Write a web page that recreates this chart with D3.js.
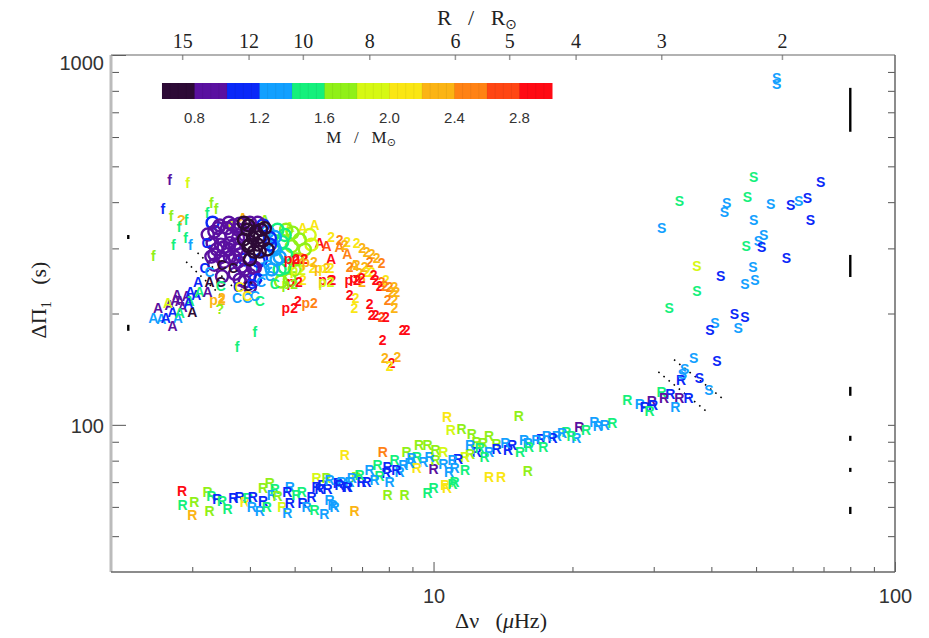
<!DOCTYPE html>
<html>
<head>
<meta charset="utf-8">
<script src="https://cdn.jsdelivr.net/npm/d3@7"></script>
<style>
body { margin: 0; background: #fff; }
svg { display: block; }
.pre { white-space: pre; }
</style>
</head>
<body>
<svg id="chart"></svg>
<script>
// each point: [dnu (muHz), dPi1 (s), mass (Msun)]
const rPts = [
  [2.85,66.3,2.9],[2.86,60.8,1.5],[3.03,61.9,1.7],[3.0,57.1,2.3],[3.24,66.0,1.7],[3.27,58.5,1.7],
  [3.3,64.3,1.5],[3.4,63.1,1.1],[3.48,62.3,1.5],[3.58,59.3,1.5],[3.68,63.4,1.1],[3.80,63.8,1.1],
  [3.90,61.9,2.1],[3.96,63.4,1.5],[4.06,63.8,1.1],[4.04,60.0,1.3],[4.20,58.5,1.3],[4.27,62.3,1.1],
  [4.35,60.0,1.5],[4.27,67.3,1.7],[4.42,69.8,1.7],[4.53,67.0,1.5],[4.46,64.7,1.3],[4.59,64.3,1.7],
  [4.70,60.0,1.9],[4.82,57.8,1.3],[4.88,68.0,1.3],[4.82,65.8,1.1],[4.88,61.6,1.1],[5.05,64.7,1.5],
  [5.18,65.8,1.5],[5.20,61.6,1.1],[5.31,60.0,1.3],[5.44,63.8,1.1],[5.52,58.9,1.5],[5.58,72.0,1.9],
  [5.58,68.0,1.1],[5.66,67.0,1.1],[5.74,68.9,1.1],[5.86,72.0,1.7],[5.89,67.0,1.1],[5.80,57.5,1.3],
  [5.95,62.7,1.3],[6.04,60.8,1.3],[6.20,69.8,1.1],[6.32,70.1,1.3],[6.48,68.0,1.1],[6.58,70.1,1.3],
  [6.74,58.5,2.3],[6.42,82.9,2.1],[6.80,72.4,1.7],
  [10.7,105,2.1],[10.9,97,1.9],[11.5,97.5,1.7],[12.1,94.5,1.7],[13.2,93.4,1.7],[12.4,90.0,1.7],
  [12.8,89.4,1.7],[13.7,88.8,1.7],[15.3,106,1.7],[20.7,98.8,0.9],[22.3,102,1.3],[22.7,99.4,1.3],
  [24.4,101,1.5],[19.4,95.6,1.5],[20.4,92.2,1.3],[18.5,93.4,1.3],[18.1,92.2,1.1],[17.1,91.6,1.1],
  [16.7,91.0,1.3],[17.3,87.2,1.5],[16.0,89.4,1.3],[15.4,84.2,1.5],[14.8,88.2,1.1],[14.5,85.6,1.1],
  [13.7,86.2,1.1],[13.2,84.7,1.3],[12.9,81.9,1.5],[12.4,84.2,1.1],[12.0,83.2,1.7],[11.7,81.9,1.9],
  [11.3,80.9,1.1],[11.0,80.4,1.3],[11.7,75.6,1.5],[11.1,76.5,1.3],[10.8,74.6,1.3],[11.1,70.1,1.5],
  [10.6,68.9,2.1],[10.7,67.6,2.1],[10.0,67.6,1.5],[9.7,65.5,1.5],[10.0,76.0,0.9],[10.5,78.4,1.3],
  [10.1,80.4,1.7],[9.8,81.9,1.3],[9.5,79.4,1.3],[9.2,81.9,1.5],[9.3,88.2,1.7],[9.7,88.2,1.7],
  [10.1,85.6,1.7],[10.5,84.2,1.9],[8.74,84.7,1.7],[9.2,76.5,2.1],[8.87,78.9,1.3],[8.6,77.9,1.3],
  [8.44,74.6,1.3],[8.3,75.6,1.1],[7.95,76.9,1.1],[7.9,74.1,1.1],[8.03,70.1,1.3],[7.76,84.2,2.5],
  [8.65,64.7,1.7],[7.95,64.7,1.7],[7.64,72.9,1.5],[7.45,71.0,1.3],[7.16,70.1,1.1],[6.98,70.1,1.1],
  [6.52,68.0,1.1],[6.26,68.9,1.1],[5.95,71.0,1.3],[6.1,60.0,1.3],[13.2,72.4,2.1],[14.0,72.4,2.1],
  [16.0,75.0,1.7],[16.1,87.2,1.5],[11.0,69.4,1.5],[15.7,91,1.3],[14.3,89.4,1.3],[17.6,93.4,1.3],
  [19.0,95,1.3],[21.4,97,1.5],[23.5,100,1.3],[19.9,93.4,1.5],[12.6,86.7,1.5],[12.0,88.2,1.3],
  [7.27,75.6,1.3],[7.56,77.9,1.5],[8.23,80.4,1.5],[8.96,81.4,1.3],[6.91,73.2,1.5],[6.65,72.0,1.3],
  [26.3,117,1.5],[28.0,114,1.3],[29.7,116,0.9],[28.7,112,1.1],[29.9,113,1.1],[29.4,109,1.5],
  [31.2,123,1.5],[32.6,121,1.1],[31.6,118,0.9],[34.1,118,0.9],[35.7,118,1.1],[34.4,132,1.1],
  [33.4,112,1.3]
];

const sPts = [
  [49.4,469,1.5],[69.0,454,1.1],[34.1,404,1.5],[47.9,414,1.5],[43.2,398,1.3],[42.7,376,1.3],
  [53.8,396,1.3],[59.4,394,1.1],[61.8,403,1.3],[64.6,411,1.1],[65.6,359,1.1],[49.4,357,1.3],
  [31.2,341,1.3],[51.9,327,1.3],[50.6,315,1.3],[51.4,302,1.1],[47.6,304,1.5],[58.2,282,1.1],
  [37.2,269,1.9],[41.9,253,1.1],[49.2,267,1.3],[47.3,240,1.3],[49.7,246,1.3],[37.2,230,1.5],
  [32.4,207,1.5],[44.9,199,1.1],[47.3,196,1.1],[40.7,188,1.3],[39.7,181,1.1],[45.7,183,1.3],
  [36.6,152,1.3],[41.1,149,1.1],[35.0,142,1.3],[37.7,134,1.1],[39.5,124,1.3],[34.6,137,1.3],
  [55.4,868,1.3],[55.4,837,1.3]
];

const aPts = [
  [2.53,207,0.9],[2.47,195,1.3],[2.57,193,1.3],[2.63,195,1.1],[2.68,211,0.9],[2.72,202,1.1],
  [2.79,195,1.3],[2.72,185,0.9],[2.66,214,1.9],[2.82,216,0.9],[2.86,208,0.9],[2.82,201,1.5],
  [2.92,223,0.9],[2.97,228,1.1],[3.06,225,1.1],[2.96,216,1.5],[3.0,202,0.7],[3.09,244,1.1],
  [3.11,229,1.5],[3.24,228,0.9],[3.27,244,0.7],[2.76,218,0.9],[2.78,224,0.9],[2.94,214,1.1],
  [3.86,363,2.3],[3.65,348,1.9],[4.88,342,1.9],[5.21,340,2.1],[5.66,310,2.9],[5.86,304,2.7],
  [6.0,280,2.9],[6.26,302,2.5],[6.5,289,2.5],[6.74,271,2.3],[5.52,348,2.1],[4.31,359,1.7]
];

const circPts = [
  [3.95,337,0.7],[4.12,333,0.7],[4.06,320,0.7],[4.2,322,0.7],[3.97,304,0.7],[4.16,307,0.7],
  [4.27,315,0.7],[4.08,294,0.7],[4.2,294,0.7],[4.37,298,0.7],[3.88,352,0.7],[4.31,340,0.7],
  [4.0,280,0.7],[3.88,317,0.7],[4.0,307,0.7],[4.23,337,0.7],[3.97,346,0.7],
  [3.35,333,0.9],[3.44,322,0.9],[3.57,340,0.9],[3.68,346,0.9],[3.80,350,0.9],[3.62,310,0.9],
  [3.75,298,0.9],[3.39,298,0.9],[3.3,285,0.9],[3.84,268,0.9],[3.9,263,0.9],[3.62,284,0.9],
  [3.48,252,0.9],[4.0,236,0.9],[3.51,302,0.9],[3.77,320,0.9],[4.0,352,0.9],[4.16,352,0.9],
  [3.71,284,0.9],[3.32,310,0.9],[3.46,284,0.9],[3.8,247,0.9],[3.44,346,0.9],[3.9,326,0.9],
  [3.65,326,0.9],[3.35,271,0.9],[3.8,289,0.9],[3.6,298,0.9],[4.06,266,0.9],[3.71,256,0.9],
  [3.24,327,0.9],[3.41,340,0.9],[3.6,352,0.9],[3.77,337,0.9],[3.71,307,0.9],[3.46,307,0.9],
  [3.35,289,0.9],[3.51,276,0.9],[3.77,276,0.9],[4.0,254,0.9],[3.9,244,0.9],[4.1,266,0.9],
  [3.32,352,1.1],[4.27,346,1.1],[4.42,307,1.1],[4.18,277,1.1],[3.9,280,1.1],[4.1,247,1.1],
  [4.23,280,1.1],[4.42,320,1.1],
  [4.37,333,1.3],[4.5,304,1.3],[4.57,280,1.3],[4.53,322,1.3],[4.27,263,1.3],[4.53,298,1.3],
  [4.64,284,1.3],[4.46,263,1.3],
  [4.59,337,1.5],[4.7,312,1.5],[4.64,263,1.5],[4.79,289,1.5],[4.76,266,1.5],[4.76,326,1.5],
  [4.79,337,1.7],[4.93,304,1.7],[4.67,244,1.7],[4.95,331,1.7],[5.05,280,1.7],[4.88,247,1.7],
  [5.13,317,1.7],[5.26,298,1.7],[5.0,263,1.7],[5.39,326,1.9],[5.44,307,1.9]
];

const cPts = [
  [3.22,310,1.1],[3.19,266,1.1],[3.48,271,0.7],[3.68,266,0.7],[3.46,244,0.7],[3.97,237,0.7],
  [4.16,250,1.1],[3.77,236,1.1],[4.04,240,1.1],[3.75,221,1.3],[3.95,221,1.3],[4.2,216,1.5],
  [4.1,223,1.3],[4.23,244,1.3],[4.42,252,1.3],[4.53,240,1.5],[3.27,259,1.3],[3.46,237,1.5],
  [3.95,223,2.1],[3.8,236,2.1],[4.37,271,1.3]
];

const twoPts = [
  [6.0,322,2.1],[6.5,312,2.1],[6.81,310,2.1],[7.0,301,2.3],[7.16,294,2.3],[7.34,289,2.3],
  [7.53,283,2.3],[7.72,274,2.5],[7.27,276,2.5],[7.09,268,2.3],[6.81,271,2.3],[6.58,268,2.5],
  [6.91,258,2.3],[7.16,259,2.1],[7.34,259,2.1],[7.49,247,2.9],[7.72,244,2.5],[7.88,247,2.1],
  [7.42,254,2.9],[7.64,237,2.9],[7.84,237,2.5],[8.03,236,2.5],[8.23,236,2.3],[8.11,228,2.3],
  [8.31,228,2.3],[8.23,218,2.3],[7.95,218,2.5],[8.23,207,2.3],[6.58,225,2.9],[6.78,221,2.1],
  [6.74,207,2.1],[7.27,212,2.9],[7.34,198,2.9],[7.49,198,2.9],[7.72,196,2.7],[7.88,196,2.9],
  [8.57,181,2.9],[8.74,181,2.9],[7.76,170,2.9],[7.84,152,2.3],[8.11,147,2.9],[8.35,153,2.3],
  [8.03,144,2.1],[5.18,283,2.3],[5.26,280,2.3],[4.95,265,1.7],[5.21,247,2.1],[5.47,265,2.1],
  [6.04,247,2.9],[7.0,244,2.3],[5.08,216,2.9],[3.48,221,2.3],[6.26,317,2.5],[6.42,307,2.3]
];

const p2Pts = [
  [4.93,280,2.9],[5.74,265,2.3],[5.86,247,2.9],[6.68,247,2.9],[4.88,207,2.9],[5.39,214,2.5],
  [3.40,218,2.3],[5.0,244,2.9],[5.86,244,1.9],[6.84,250,2.9],[5.13,280,2.9],[5.08,263,1.9],
  [5.86,265,2.1],[4.88,240,1.7],[5.39,276,2.3]
];

const fPts = [
  [2.68,458,0.9],[2.93,450,1.9],[2.59,384,1.1],[2.7,367,1.7],[2.81,342,1.5],[2.91,357,1.5],
  [3.3,398,1.7],[3.38,384,1.7],[3.23,374,1.5],[2.73,307,1.5],[2.9,320,1.5],[2.97,307,1.3],
  [2.47,286,1.7],[4.1,178,1.5],[3.75,162,1.5]
];

const qPts = [[2.84,359,2.3],[3.44,206,1.7]];

// dotted guide lines, [[dnu, dPi], [dnu, dPi]]
const dotLines = [
  [[2.91,276],[3.47,223]],
  [[3.08,292],[3.73,232]],
  [[33.2,150],[42.6,117]],
  [[30.7,139],[39.3,108]]
];

// typical error bars [dnu, low, high]
const errBars = [
  [80,620,815],[80,251,288],[80,119.8,126.7],[80,90.5,93.4],[80,74.6,76.5],[80,57.4,60.0],
  [2.18,318,326],[2.18,179.6,186.4]
];

const massTicks = [0.8,1.2,1.6,2.0,2.4,2.8];
const massBins = d3.range(0.6, 2.99, 0.2);
const radiusTicks = [15,12,10,8,6,5,4,3,2];
const palette = ["#2d0a36","#5a10a0","#0a28f8","#12a0ff","#14f07c","#90f018",
                 "#d6f814","#fae614","#fbb414","#ff8214","#ff4614","#ff0a14"];

const width = 929, height = 638;
const padL = 111, padR = 895, padT = 55, padB = 572;

let svg = d3.select("#chart").attr("width", width).attr("height", height);

let x = d3.scaleLog().domain([2, 100]).range([padL, padR]);
let y = d3.scaleLog().domain([40, 1000]).range([padB, padT]);
let xR = d3.scaleLog().domain([19.05, 1.368]).range([padL, padR]);
let color = d3.scaleQuantize().domain([0.6, 3.0]).range(palette);

const serif = "'Liberation Serif', 'DejaVu Serif', serif";
const sans = "'Liberation Sans', Arial, sans-serif";

// ---------- axes ----------
let minorX = [3,4,5,6,7,8,9,20,30,40,50,60,70,80,90];
let minorY = [50,60,70,80,90,200,300,400,500,600,700,800,900];

let styleAxis = g => {
  g.select(".domain").remove();
  g.selectAll(".tick line").attr("stroke", "#555");
};

svg.append("g")
  .attr("transform", "translate(0," + padB + ")")
  .call(d3.axisBottom(x).tickValues(minorX).tickSize(-5).tickFormat(""))
  .call(styleAxis);

svg.append("g")
  .attr("transform", "translate(0," + padB + ")")
  .call(d3.axisBottom(x).tickValues([10, 100]).tickSize(-10).tickPadding(17).tickFormat(d3.format("d")))
  .call(styleAxis)
  .call(g => g.selectAll("text").attr("font-family", sans).attr("font-size", 20).attr("fill", "#333"));

svg.append("g")
  .attr("transform", "translate(" + padL + ",0)")
  .call(d3.axisLeft(y).tickValues(minorY).tickSize(-8).tickFormat(""))
  .call(styleAxis);

svg.append("g")
  .attr("transform", "translate(" + padL + ",0)")
  .call(d3.axisLeft(y).tickValues([100, 1000]).tickSize(-15).tickPadding(7).tickFormat(d3.format("d")))
  .call(styleAxis)
  .call(g => g.selectAll("text").attr("font-family", sans).attr("font-size", 20).attr("fill", "#333")
    .attr("dy", d => d === 1000 ? "0.7em" : "0.38em"));

svg.append("g")
  .attr("transform", "translate(" + padR + ",0)")
  .call(d3.axisRight(y).tickValues(minorY.concat([100])).tickSize(-7).tickFormat(""))
  .call(styleAxis);

svg.append("g")
  .attr("transform", "translate(0," + padT + ")")
  .call(d3.axisTop(xR).tickValues(radiusTicks).tickSize(-5).tickPadding(7).tickFormat(d3.format("d")))
  .call(styleAxis)
  .call(g => g.selectAll(".tick line").attr("stroke", "#999").attr("stroke-width", 1.5))
  .call(g => g.selectAll("text").attr("font-family", serif).attr("font-size", 20).attr("fill", "#222"));

// frame
svg.append("line").attr("x1", padL).attr("x2", padL).attr("y1", padT).attr("y2", padB)
  .attr("stroke", "#bbb").attr("stroke-width", 3);
svg.append("line").attr("x1", padL).attr("x2", padR).attr("y1", padT).attr("y2", padT)
  .attr("stroke", "#666").attr("stroke-width", 1.2);
svg.append("line").attr("x1", padL).attr("x2", padR).attr("y1", padB).attr("y2", padB)
  .attr("stroke", "#666").attr("stroke-width", 1.5);
svg.append("line").attr("x1", padR).attr("x2", padR).attr("y1", padT).attr("y2", padB)
  .attr("stroke", "#666").attr("stroke-width", 1.5);

// axis titles
let xTitle = svg.append("text").attr("class", "pre").attr("x", 501).attr("y", 628).attr("text-anchor", "middle")
  .attr("font-family", serif).attr("font-size", 22).attr("fill", "#222");
xTitle.append("tspan").text("Δν   (");
xTitle.append("tspan").attr("font-style", "italic").text("μ");
xTitle.append("tspan").text("Hz)");

let yTitle = svg.append("text").attr("class", "pre").attr("transform", "translate(46,300) rotate(-90)")
  .attr("text-anchor", "middle").attr("font-family", serif).attr("font-size", 22).attr("fill", "#222");
yTitle.append("tspan").text("ΔΠ");
yTitle.append("tspan").attr("font-size", 14).attr("dy", 5).text("1");
yTitle.append("tspan").attr("dy", -5).text("   (s)");

let topTitle = svg.append("text").attr("class", "pre").attr("x", 477).attr("y", 25).attr("text-anchor", "middle")
  .attr("font-family", serif).attr("font-size", 22).attr("fill", "#222");
topTitle.append("tspan").text("R   /   R");
topTitle.append("tspan").attr("font-size", 14).attr("dy", 4).attr("font-family", "'DejaVu Sans', sans-serif").text("⊙");

// ---------- colour bar ----------
let mScale = d3.scaleLinear().domain([0.6, 3.0]).range([162, 552]);
svg.append("g").selectAll("rect").data(massBins).join("rect")
  .attr("x", d => mScale(d))
  .attr("width", d => mScale(d + 0.2) - mScale(d) + 0.5)
  .attr("y", 83).attr("height", 16)
  .attr("fill", d => color(d + 0.1));
svg.append("g").selectAll("line").data(d3.range(0.6, 3.0, 0.05)).join("line")
  .attr("x1", d => mScale(d)).attr("x2", d => mScale(d))
  .attr("y1", 83).attr("y2", 99)
  .attr("stroke", "#000").attr("stroke-opacity", 0.06);
svg.append("g").selectAll("text").data(massTicks).join("text")
  .attr("x", d => mScale(d)).attr("y", 123).attr("text-anchor", "middle")
  .attr("font-family", sans).attr("font-size", 15).attr("fill", "#333")
  .text(d => d.toFixed(1));
let mTitle = svg.append("text").attr("class", "pre").attr("x", 361).attr("y", 143).attr("text-anchor", "middle")
  .attr("font-family", serif).attr("font-size", 17).attr("fill", "#222");
mTitle.append("tspan").text("M   /   M");
mTitle.append("tspan").attr("font-size", 11).attr("dy", 3).attr("font-family", "'DejaVu Sans', sans-serif").text("⊙");

// ---------- guides ----------
svg.append("g").selectAll("line").data(dotLines).join("line")
  .attr("x1", d => x(d[0][0])).attr("y1", d => y(d[0][1]))
  .attr("x2", d => x(d[1][0])).attr("y2", d => y(d[1][1]))
  .attr("stroke", "#000").attr("stroke-width", 1.6)
  .attr("stroke-dasharray", "1.6,5");

svg.append("g").selectAll("line").data(errBars).join("line")
  .attr("x1", d => x(d[0])).attr("x2", d => x(d[0]))
  .attr("y1", d => y(d[1])).attr("y2", d => y(d[2]))
  .attr("stroke", "#000").attr("stroke-width", 2.4);

// ---------- points ----------
let drawLetters = (pts, label) => {
  svg.append("g").selectAll("text").data(pts).join("text")
    .attr("x", d => x(d[0])).attr("y", d => y(d[1]))
    .attr("dy", "0.36em").attr("text-anchor", "middle")
    .attr("font-family", sans).attr("font-size", 14).attr("font-weight", "bold")
    .attr("fill", d => color(d[2]))
    .text(label);
};

drawLetters(rPts, "R");
drawLetters(sPts, "S");
drawLetters(fPts, "f");
drawLetters(aPts, "A");

svg.append("g").selectAll("circle")
  .data(circPts.slice().sort((a, b) => b[2] - a[2])).join("circle")
  .attr("cx", d => x(d[0])).attr("cy", d => y(d[1])).attr("r", 6)
  .attr("fill", "none").attr("stroke", d => color(d[2])).attr("stroke-width", 2.4);

drawLetters(cPts, "C");
drawLetters(twoPts, "2");
drawLetters(p2Pts, "p2");
drawLetters(qPts, "?");
</script>
</body>
</html>
